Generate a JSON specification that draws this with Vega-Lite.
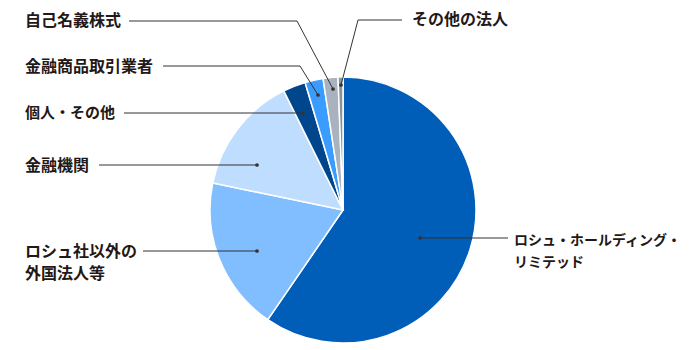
{
  "$schema": "https://vega.github.io/schema/vega-lite/v6.json",
  "width": 690,
  "height": 350,
  "autosize": "none",
  "padding": 0,
  "background": "white",
  "config": {"view": {"stroke": null}},
  "datasets": {
    "slices": [
      {"name": "ロシュ・ホールディング・リミテッド", "value": 59.6, "o": 1, "cx": 343, "cy": 210},
      {"name": "ロシュ社以外の外国法人等", "value": 18.7, "o": 2, "cx": 343, "cy": 210},
      {"name": "金融機関", "value": 14.4, "o": 3, "cx": 343, "cy": 210},
      {"name": "個人・その他", "value": 2.75, "o": 4, "cx": 343, "cy": 210},
      {"name": "金融商品取引業者", "value": 2.2, "o": 5, "cx": 343, "cy": 210},
      {"name": "自己名義株式", "value": 1.8, "o": 6, "cx": 343, "cy": 210},
      {"name": "その他の法人", "value": 0.6, "o": 7, "cx": 343, "cy": 210}
    ],
    "leaders": [
      {"id": "a", "i": 1, "x": 129, "y": 21},
      {"id": "a", "i": 2, "x": 297, "y": 21},
      {"id": "a", "i": 3, "x": 333, "y": 89},
      {"id": "b", "i": 1, "x": 402, "y": 20},
      {"id": "b", "i": 2, "x": 358, "y": 20},
      {"id": "b", "i": 3, "x": 341, "y": 85},
      {"id": "c", "i": 1, "x": 163, "y": 66},
      {"id": "c", "i": 2, "x": 300, "y": 66},
      {"id": "c", "i": 3, "x": 318, "y": 95},
      {"id": "d", "i": 1, "x": 124, "y": 113},
      {"id": "d", "i": 2, "x": 303, "y": 113},
      {"id": "e", "i": 1, "x": 99, "y": 165},
      {"id": "e", "i": 2, "x": 257, "y": 165},
      {"id": "f", "i": 1, "x": 143, "y": 251},
      {"id": "f", "i": 2, "x": 257, "y": 251},
      {"id": "g", "i": 1, "x": 508, "y": 238},
      {"id": "g", "i": 2, "x": 420, "y": 238}
    ],
    "dots": [
      {"x": 333, "y": 89},
      {"x": 341, "y": 85},
      {"x": 318, "y": 95},
      {"x": 303, "y": 113},
      {"x": 257, "y": 165},
      {"x": 257, "y": 251},
      {"x": 420, "y": 238}
    ],
    "labels": [
      {"t": "自己名義株式", "x": 25, "y": 21},
      {"t": "その他の法人", "x": 412, "y": 20},
      {"t": "金融商品取引業者", "x": 25, "y": 67},
      {"t": "金融機関", "x": 25, "y": 166},
      {"t": "ロシュ社以外の", "x": 25, "y": 252},
      {"t": "外国法人等", "x": 25, "y": 274}
    ],
    "midlabels": [
      {"t": "個人・その他", "x": 25, "y": 113}
    ],
    "tightlabels": [
      {"t": "ロシュ・ホールディング・", "x": 514, "y": 241},
      {"t": "リミテッド", "x": 514, "y": 263}
    ]
  },
  "layer": [
    {
      "data": {"name": "slices"},
      "mark": {"type": "arc", "outerRadius": 133, "stroke": "white", "strokeWidth": 1.5},
      "encoding": {
        "x": {"field": "cx", "type": "quantitative", "scale": {"domain": [0, 690], "range": [0, 690]}, "axis": null},
        "y": {"field": "cy", "type": "quantitative", "scale": {"domain": [0, 350], "range": [0, 350]}, "axis": null},
        "theta": {"field": "value", "type": "quantitative", "stack": true},
        "order": {"field": "o", "type": "quantitative"},
        "color": {
          "field": "name",
          "type": "nominal",
          "legend": null,
          "scale": {
            "domain": ["ロシュ・ホールディング・リミテッド", "ロシュ社以外の外国法人等", "金融機関", "個人・その他", "金融商品取引業者", "自己名義株式", "その他の法人"],
            "range": ["#005DB8", "#80BEFF", "#BFDEFF", "#00468C", "#3A9CFF", "#A9B2BF", "#8C9198"]
          }
        }
      }
    },
    {
      "data": {"name": "leaders"},
      "mark": {"type": "line", "color": "#333333", "strokeWidth": 1},
      "encoding": {
        "x": {"field": "x", "type": "quantitative", "scale": {"domain": [0, 690], "range": [0, 690]}, "axis": null},
        "y": {"field": "y", "type": "quantitative", "scale": {"domain": [0, 350], "range": [0, 350]}, "axis": null},
        "detail": {"field": "id", "type": "nominal"},
        "order": {"field": "i", "type": "quantitative"}
      }
    },
    {
      "data": {"name": "dots"},
      "mark": {"type": "circle", "color": "#333333", "opacity": 1, "size": 14},
      "encoding": {
        "x": {"field": "x", "type": "quantitative", "scale": {"domain": [0, 690], "range": [0, 690]}, "axis": null},
        "y": {"field": "y", "type": "quantitative", "scale": {"domain": [0, 350], "range": [0, 350]}, "axis": null}
      }
    },
    {
      "data": {"name": "labels"},
      "mark": {"type": "text", "align": "left", "baseline": "middle", "font": "Noto Sans CJK JP", "fontSize": 16, "fontWeight": "bold", "color": "#231815"},
      "encoding": {
        "x": {"field": "x", "type": "quantitative", "scale": {"domain": [0, 690], "range": [0, 690]}, "axis": null},
        "y": {"field": "y", "type": "quantitative", "scale": {"domain": [0, 350], "range": [0, 350]}, "axis": null},
        "text": {"field": "t", "type": "nominal"}
      }
    },
    {
      "data": {"name": "midlabels"},
      "mark": {"type": "text", "align": "left", "baseline": "middle", "font": "Noto Sans CJK JP", "fontSize": 15, "fontWeight": "bold", "color": "#231815"},
      "encoding": {
        "x": {"field": "x", "type": "quantitative", "scale": {"domain": [0, 690], "range": [0, 690]}, "axis": null},
        "y": {"field": "y", "type": "quantitative", "scale": {"domain": [0, 350], "range": [0, 350]}, "axis": null},
        "text": {"field": "t", "type": "nominal"}
      }
    },
    {
      "data": {"name": "tightlabels"},
      "mark": {"type": "text", "align": "left", "baseline": "middle", "font": "Noto Sans CJK JP", "fontSize": 14, "fontWeight": "bold", "color": "#231815"},
      "encoding": {
        "x": {"field": "x", "type": "quantitative", "scale": {"domain": [0, 690], "range": [0, 690]}, "axis": null},
        "y": {"field": "y", "type": "quantitative", "scale": {"domain": [0, 350], "range": [0, 350]}, "axis": null},
        "text": {"field": "t", "type": "nominal"}
      }
    }
  ]
}
